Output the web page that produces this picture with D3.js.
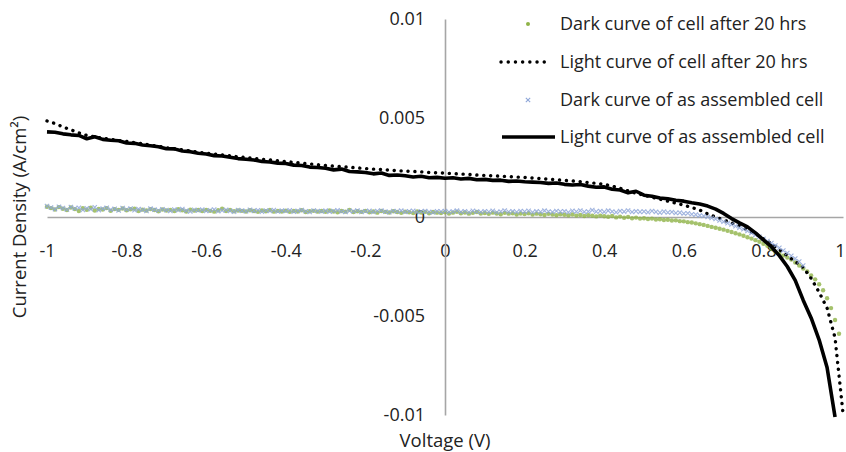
<!DOCTYPE html>
<html>
<head>
<meta charset="utf-8">
<script src="https://cdn.jsdelivr.net/npm/d3@7"></script>
<style>
 body { margin: 0; background: #fff; }
 text { font-family: "Open Sans", Lato, sans-serif; fill: #222; }
</style>
</head>
<body>
<div id="chart"></div>
<script>
// current densities in mA/cm2
const xTicks = [-1, -0.8, -0.6, -0.4, -0.2, 0, 0.2, 0.4, 0.6, 0.8, 1];
const yTicks = [-0.01, -0.005, 0, 0.005, 0.01];

const seriesNames = [
 "Dark curve of cell after 20 hrs",
 "Light curve of cell after 20 hrs",
 "Dark curve of as assembled cell",
 "Light curve of as assembled cell",
];

// light curves sampled every 0.02 V starting at -1 V
const lightStart = -1, lightStep = 0.02;
const lightAssembled = [
 4.30, 4.28, 4.20, 4.15, 4.12, 3.95, 4.05, 3.92, 3.88, 3.85,
 3.74, 3.72, 3.64, 3.60, 3.55, 3.45, 3.44, 3.33, 3.30, 3.22,
 3.18, 3.10, 3.08, 3.02, 2.95, 2.92, 2.88, 2.80, 2.78, 2.72,
 2.70, 2.62, 2.60, 2.52, 2.50, 2.46, 2.38, 2.42, 2.30, 2.28,
 2.25, 2.18, 2.22, 2.10, 2.12, 2.08, 2.02, 2.06, 1.98, 2.00,
 1.96, 1.98, 1.92, 1.95, 1.88, 1.90, 1.85, 1.86, 1.80, 1.82,
 1.78, 1.76, 1.74, 1.70, 1.72, 1.65, 1.62, 1.64, 1.56, 1.50,
 1.52, 1.40, 1.36, 1.22, 1.30, 1.10, 1.05, 0.96, 0.92, 0.85,
 0.80, 0.72, 0.66, 0.55, 0.40, 0.18, -0.08, -0.30, -0.50, -0.80,
 -1.15, -1.50, -1.95, -2.50, -3.20, -4.20, -5.10, -6.20, -7.60, -10.10,
];
const lightAfter20 = [
 4.85, 4.72, 4.55, 4.40, 4.25, 4.12, 4.05, 3.98, 3.92, 3.86,
 3.82, 3.75, 3.70, 3.63, 3.57, 3.50, 3.45, 3.39, 3.33, 3.27,
 3.22, 3.18, 3.13, 3.09, 3.04, 3.00, 2.96, 2.92, 2.88, 2.84,
 2.80, 2.76, 2.72, 2.68, 2.64, 2.60, 2.57, 2.54, 2.51, 2.48,
 2.45, 2.42, 2.40, 2.37, 2.34, 2.32, 2.30, 2.28, 2.25, 2.23,
 2.22, 2.19, 2.17, 2.15, 2.12, 2.10, 2.08, 2.06, 2.04, 2.02,
 2.00, 1.97, 1.94, 1.91, 1.88, 1.85, 1.82, 1.78, 1.74, 1.70,
 1.65, 1.56, 1.45, 1.32, 1.20, 1.10, 1.00, 0.90, 0.80, 0.70,
 0.60, 0.48, 0.35, 0.15, 0.00, -0.15, -0.30, -0.45, -0.65, -0.85,
 -1.10, -1.35, -1.65, -1.95, -2.25, -2.55, -3.10, -3.80, -4.60, -6.10,
 -9.90,
];

// dark curves sampled every 0.01 V starting at -1 V
const darkStart = -1, darkStep = 0.01;
const darkAfter20 = [
 0.52, 0.45, 0.38, 0.50, 0.42, 0.35, 0.48, 0.40, 0.30, 0.44,
 0.36, 0.47, 0.33, 0.41, 0.38, 0.45, 0.31, 0.40, 0.36, 0.43,
 0.34, 0.39, 0.42, 0.30, 0.37, 0.33, 0.40, 0.35, 0.29, 0.38,
 0.33, 0.36, 0.30, 0.39, 0.34, 0.28, 0.37, 0.32, 0.35, 0.30,
 0.36, 0.31, 0.27, 0.34, 0.42, 0.30, 0.35, 0.29, 0.33, 0.31,
 0.28, 0.34, 0.30, 0.26, 0.33, 0.29, 0.35, 0.27, 0.31, 0.28,
 0.32, 0.26, 0.30, 0.28, 0.34, 0.25, 0.29, 0.31, 0.27, 0.30,
 0.26, 0.33, 0.28, 0.24, 0.30, 0.27, 0.36, 0.25, 0.29, 0.26,
 0.31, 0.24, 0.28, 0.22, 0.30, 0.26, 0.23, 0.29, 0.25, 0.21,
 0.27, 0.24, 0.20, 0.28, 0.23, 0.26, 0.19, 0.25, 0.22, 0.20,
 0.24, 0.18, 0.22, 0.26, 0.19, 0.23, 0.17, 0.21, 0.25, 0.18,
 0.20, 0.16, 0.22, 0.18, 0.14, 0.21, 0.17, 0.19, 0.13, 0.18,
 0.15, 0.19, 0.12, 0.17, 0.14, 0.10, 0.16, 0.13, 0.09, 0.14,
 0.11, 0.08, 0.13, 0.07, 0.10, 0.05, 0.09, 0.06, 0.03, 0.07,
 0.04, 0.01, 0.05, -0.02, 0.02, -0.04, 0.00, -0.06, -0.03, -0.08,
 -0.06, -0.10, -0.08, -0.13, -0.11, -0.15, -0.14, -0.18, -0.17, -0.21,
 -0.22, -0.26, -0.28, -0.32, -0.36, -0.40, -0.45, -0.50, -0.54, -0.59,
 -0.64, -0.70, -0.76, -0.82, -0.88, -0.95, -1.02, -1.09, -1.17, -1.25,
 -1.35, -1.45, -1.60, -1.75, -1.85, -1.95, -2.05, -2.15, -2.30, -2.45,
 -2.60, -2.75, -2.95, -3.15, -3.40, -3.70, -4.10, -4.60, -5.20, -5.90,
];
const darkAssembled = [
 0.55, 0.48, 0.40, 0.52, 0.45, 0.38, 0.50, 0.43, 0.47, 0.36,
 0.44, 0.39, 0.49, 0.35, 0.42, 0.46, 0.37, 0.41, 0.33, 0.45,
 0.38, 0.43, 0.34, 0.40, 0.36, 0.31, 0.42, 0.37, 0.33, 0.39,
 0.35, 0.30, 0.38, 0.34, 0.40, 0.32, 0.28, 0.36, 0.33, 0.37,
 0.30, 0.34, 0.38, 0.29, 0.33, 0.36, 0.31, 0.27, 0.35, 0.32,
 0.29, 0.36, 0.31, 0.34, 0.27, 0.33, 0.30, 0.35, 0.28, 0.32,
 0.30, 0.34, 0.27, 0.31, 0.35, 0.29, 0.26, 0.33, 0.30, 0.28,
 0.32, 0.27, 0.30, 0.34, 0.28, 0.25, 0.31, 0.29, 0.33, 0.26,
 0.29, 0.31, 0.26, 0.30, 0.33, 0.27, 0.24, 0.30, 0.28, 0.32,
 0.26, 0.29, 0.31, 0.25, 0.28, 0.30, 0.26, 0.23, 0.29, 0.27,
 0.30, 0.25, 0.28, 0.32, 0.26, 0.29, 0.24, 0.31, 0.27, 0.25,
 0.29, 0.26, 0.31, 0.24, 0.28, 0.33, 0.26, 0.29, 0.25, 0.30,
 0.27, 0.31, 0.24, 0.29, 0.26, 0.32, 0.28, 0.25, 0.30, 0.27,
 0.29, 0.24, 0.31, 0.27, 0.33, 0.26, 0.28, 0.35, 0.27, 0.30,
 0.26, 0.32, 0.28, 0.24, 0.30, 0.27, 0.33, 0.25, 0.29, 0.26,
 0.28, 0.24, 0.30, 0.26, 0.22, 0.27, 0.23, 0.25, 0.20, 0.22,
 0.18, 0.19, 0.14, 0.12, 0.08, 0.05, 0.00, -0.05, -0.10, -0.17,
 -0.24, -0.31, -0.38, -0.46, -0.54, -0.62, -0.71, -0.80, -0.90, -1.00,
 -1.10, -1.21, -1.32, -1.44, -1.56, -1.69, -1.82, -1.96, -2.10, -2.25,
 -2.45,
];

const W = 846, H = 452;
const fontSize = "18px";

// pair each value with its voltage, mA/cm2 -> A/cm2
const toPoints = (vals, start, step) =>
 vals.map((j, i) => ({ v: start + i * step, j: j / 1000 }));

const x = d3.scaleLinear().domain([-1, 1]).range([47, 843]);
const y = d3.scaleLinear().domain([-0.01, 0.01]).range([415, 19]);

const svg = d3
 .select("#chart")
 .append("svg")
 .attr("width", W)
 .attr("height", H);

// axes cross at the origin, no tick marks
const xAxis = svg
 .append("g")
 .attr("transform", `translate(0,${y(0)})`)
 .call(
  d3.axisBottom(x)
   .tickValues(xTicks)
   .tickSize(0)
   .tickPadding(27)
   .tickFormat((d) => String(+d.toFixed(1)))
 );

const yAxis = svg
 .append("g")
 .attr("transform", `translate(${x(0)},0)`)
 .call(
  d3.axisLeft(y)
   .tickValues(yTicks)
   .tickSize(0)
   .tickPadding(20)
   .tickFormat((d) => String(+d.toFixed(3)))
 );

[xAxis, yAxis].forEach((a) => {
 a.select(".domain").attr("stroke", "#a6a6a6").attr("stroke-width", 1.6);
 a.selectAll("text")
  .style("font-family", "'Open Sans', sans-serif")
  .style("font-size", fontSize)
  .attr("fill", "#222");
});
// the last label sits at the very edge
xAxis.selectAll(".tick text").filter((d) => d === 1).attr("dx", -3);

const line = d3
 .line()
 .x((d) => x(d.v))
 .y((d) => y(d.j));

// dark curve after 20 hrs: green dots
svg
 .append("g")
 .selectAll("circle")
 .data(toPoints(darkAfter20, darkStart, darkStep))
 .enter()
 .append("circle")
 .attr("cx", (d) => x(d.v))
 .attr("cy", (d) => y(d.j))
 .attr("r", 2.2)
 .attr("fill", "#8fb347")
 .attr("opacity", 0.8);

// light curve after 20 hrs: dotted
svg
 .append("path")
 .datum(toPoints(lightAfter20, lightStart, lightStep))
 .attr("d", line)
 .attr("fill", "none")
 .attr("stroke", "#000")
 .attr("stroke-width", 3.4)
 .attr("stroke-linecap", "round")
 .attr("stroke-dasharray", "0.1,6.8");

// dark curve as assembled: small crosses
const cross = d3.symbol().type(d3.symbolTimes).size(14);
svg
 .append("g")
 .selectAll("path")
 .data(toPoints(darkAssembled, darkStart, darkStep))
 .enter()
 .append("path")
 .attr("d", cross)
 .attr("transform", (d) => `translate(${x(d.v)},${y(d.j)})`)
 .attr("fill", "none")
 .attr("stroke", "#8ea6d8")
 .attr("stroke-width", 1.1)
 .attr("opacity", 0.85);

// light curve as assembled: solid
svg
 .append("path")
 .datum(toPoints(lightAssembled, lightStart, lightStep))
 .attr("d", line)
 .attr("fill", "none")
 .attr("stroke", "#000")
 .attr("stroke-width", 3.6)
 .attr("stroke-linejoin", "round");

// axis titles
svg
 .append("text")
 .attr("x", x(0))
 .attr("y", 447)
 .attr("text-anchor", "middle")
 .style("font-size", "18.5px")
 .text("Voltage (V)");

svg
 .append("text")
 .attr("transform", `translate(26,${y(0)}) rotate(-90)`)
 .attr("text-anchor", "middle")
 .style("font-size", "18.5px")
 .text("Current Density (A/cm²)");

// legend
const legendRows = [24, 62, 100, 137];
const legend = svg.append("g");

legend
 .selectAll("text")
 .data(seriesNames)
 .enter()
 .append("text")
 .attr("x", 560)
 .attr("y", (d, i) => legendRows[i])
 .attr("dy", "0.36em")
 .style("font-size", "18px")
 .text((d) => d);

legend
 .append("circle")
 .attr("cx", 528)
 .attr("cy", legendRows[0])
 .attr("r", 2)
 .attr("fill", "#8fb347");

legend
 .append("line")
 .attr("x1", 501)
 .attr("x2", 551)
 .attr("y1", legendRows[1])
 .attr("y2", legendRows[1])
 .attr("stroke", "#000")
 .attr("stroke-width", 3.4)
 .attr("stroke-linecap", "round")
 .attr("stroke-dasharray", "0.1,7.1");

legend
 .append("path")
 .attr("d", cross)
 .attr("transform", `translate(528,${legendRows[2]})`)
 .attr("fill", "none")
 .attr("stroke", "#8ea6d8")
 .attr("stroke-width", 1.1);

legend
 .append("line")
 .attr("x1", 502)
 .attr("x2", 555)
 .attr("y1", legendRows[3])
 .attr("y2", legendRows[3])
 .attr("stroke", "#000")
 .attr("stroke-width", 3.6);
</script>
</body>
</html>
